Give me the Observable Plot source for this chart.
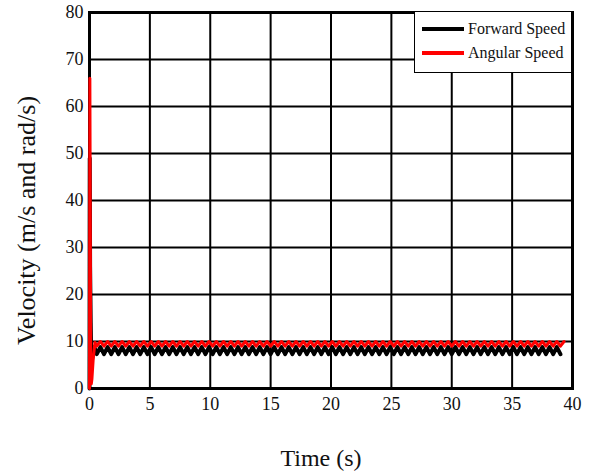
<!DOCTYPE html>
<html>
<head>
<meta charset="utf-8">
<script src="https://cdn.jsdelivr.net/npm/d3@7"></script>
<script src="https://cdn.jsdelivr.net/npm/@observablehq/plot@0.6"></script>
<style>
  body { margin: 0; background: white; }
  #wrap { position: relative; width: 598px; height: 474px; font-family: "Liberation Serif", serif; }
  #legend { position: absolute; left: 414px; top: 11px; width: 158px; height: 62px; background: white;
            border: 1.5px solid black; box-sizing: border-box; }
  .item { position: absolute; left: 7px; height: 20px; display: flex; align-items: center; font-size: 16px; color: #111; white-space: nowrap; }
  .swatch { width: 42px; height: 4px; margin-right: 4px; }
</style>
</head>
<body>
<div id="wrap"></div>
<script>
// ---- data ----
const seriesNames = ["Forward Speed", "Angular Speed"];
const seriesColors = ["black", "#ff0000"];
const xTicks = [0, 5, 10, 15, 20, 25, 30, 35, 40];
const yTicks = [0, 10, 20, 30, 40, 50, 60, 70, 80];
const xLabel = "Time (s)";
const yLabel = "Velocity (m/s and rad/s)";

// start-up transients
const forwardStartT = [0, 0.02, 0.05, 0.1, 0.15, 0.25, 0.4];
const forwardStartV = [0, 49, 26, 14, 5, 7, 8.8];
const angularStartT = [0, 0.03, 0.06, 0.1, 0.15, 0.2, 0.3, 0.45];
const angularStartV = [0, 66, 40, 8, 1, 2, 6, 9.8];

// steady-state oscillation sample times (peaks and troughs)
const steadyT = [
  0.6,0.9,1.2,1.5,1.8,2.1,2.4,2.7,3.0,3.3,3.6,3.9,4.2,4.5,4.8,5.1,5.4,5.7,6.0,6.3,
  6.6,6.9,7.2,7.5,7.8,8.1,8.4,8.7,9.0,9.3,9.6,9.9,10.2,10.5,10.8,11.1,11.4,11.7,12.0,12.3,
  12.6,12.9,13.2,13.5,13.8,14.1,14.4,14.7,15.0,15.3,15.6,15.9,16.2,16.5,16.8,17.1,17.4,17.7,18.0,18.3,
  18.6,18.9,19.2,19.5,19.8,20.1,20.4,20.7,21.0,21.3,21.6,21.9,22.2,22.5,22.8,23.1,23.4,23.7,24.0,24.3,
  24.6,24.9,25.2,25.5,25.8,26.1,26.4,26.7,27.0,27.3,27.6,27.9,28.2,28.5,28.8,29.1,29.4,29.7,30.0,30.3,
  30.6,30.9,31.2,31.5,31.8,32.1,32.4,32.7,33.0,33.3,33.6,33.9,34.2,34.5,34.8,35.1,35.4,35.7,36.0,36.3,
  36.6,36.9,37.2,37.5,37.8,38.1,38.4,38.7,39.0,39.3
];
const forwardSteadyV = [
  7.3,8.8,7.3,8.8,7.3,8.8,7.3,8.8,7.3,8.8,7.3,8.8,7.3,8.8,7.3,8.8,7.3,8.8,7.3,8.8,
  7.3,8.8,7.3,8.8,7.3,8.8,7.3,8.8,7.3,8.8,7.3,8.8,7.3,8.8,7.3,8.8,7.3,8.8,7.3,8.8,
  7.3,8.8,7.3,8.8,7.3,8.8,7.3,8.8,7.3,8.8,7.3,8.8,7.3,8.8,7.3,8.8,7.3,8.8,7.3,8.8,
  7.3,8.8,7.3,8.8,7.3,8.8,7.3,8.8,7.3,8.8,7.3,8.8,7.3,8.8,7.3,8.8,7.3,8.8,7.3,8.8,
  7.3,8.8,7.3,8.8,7.3,8.8,7.3,8.8,7.3,8.8,7.3,8.8,7.3,8.8,7.3,8.8,7.3,8.8,7.3,8.8,
  7.3,8.8,7.3,8.8,7.3,8.8,7.3,8.8,7.3,8.8,7.3,8.8,7.3,8.8,7.3,8.8,7.3,8.8,7.3,8.8,
  7.3,8.8,7.3,8.8,7.3,8.8,7.3,8.8,7.3
];
const angularSteadyV = [
  9.0,10.0,9.0,10.0,9.0,10.0,9.0,10.0,9.0,10.0,9.0,10.0,9.0,10.0,9.0,10.0,9.0,10.0,9.0,10.0,
  9.0,10.0,9.0,10.0,9.0,10.0,9.0,10.0,9.0,10.0,9.0,10.0,9.0,10.0,9.0,10.0,9.0,10.0,9.0,10.0,
  9.0,10.0,9.0,10.0,9.0,10.0,9.0,10.0,9.0,10.0,9.0,10.0,9.0,10.0,9.0,10.0,9.0,10.0,9.0,10.0,
  9.0,10.0,9.0,10.0,9.0,10.0,9.0,10.0,9.0,10.0,9.0,10.0,9.0,10.0,9.0,10.0,9.0,10.0,9.0,10.0,
  9.0,10.0,9.0,10.0,9.0,10.0,9.0,10.0,9.0,10.0,9.0,10.0,9.0,10.0,9.0,10.0,9.0,10.0,9.0,10.0,
  9.0,10.0,9.0,10.0,9.0,10.0,9.0,10.0,9.0,10.0,9.0,10.0,9.0,10.0,9.0,10.0,9.0,10.0,9.0,10.0,
  9.0,10.0,9.0,10.0,9.0,10.0,9.0,10.0,9.0,10.0
];

// ---- build tables ----
function table(ts, vs) { return vs.map((v, i) => ({t: ts[i], v})); }
const forward = [...table(forwardStartT, forwardStartV), ...table(steadyT, forwardSteadyV)];
const angular = [...table(angularStartT, angularStartV), ...table(steadyT, angularSteadyV)];

const chart = Plot.plot({
  width: 598, height: 474,
  marginLeft: 89, marginRight: 26, marginTop: 12, marginBottom: 86,
  style: {fontFamily: "Liberation Serif", fontSize: "18px", background: "white", color: "#111"},
  x: {domain: [0, 40]},
  y: {domain: [0, 80]},
  marks: [
    Plot.gridX(xTicks, {stroke: "black", strokeOpacity: 1, strokeWidth: 2}),
    Plot.gridY(yTicks, {stroke: "black", strokeOpacity: 1, strokeWidth: 2}),
    Plot.axisX(xTicks, {tickSize: 0, tickPadding: 9, label: null, fontSize: 18}),
    Plot.axisY(yTicks, {tickSize: 0, tickPadding: 6, label: null, fontSize: 18}),
    Plot.frame({stroke: "black", strokeWidth: 3}),
    Plot.line(forward, {x: "t", y: "v", stroke: seriesColors[0], strokeWidth: 4}),
    Plot.line(angular, {x: "t", y: "v", stroke: seriesColors[1], strokeWidth: 3}),
    Plot.text([yLabel], {frameAnchor: "left", rotate: -90, textAnchor: "middle", lineAnchor: "middle",
                         dx: -63, dy: 20, fontSize: 26, fill: "#111"}),
    Plot.text([xLabel], {frameAnchor: "bottom", textAnchor: "middle", lineAnchor: "middle",
                         dx: -10, dy: 70, fontSize: 24, fill: "#111"})
  ]
});
const wrap = document.getElementById("wrap");
wrap.appendChild(chart);

const legend = document.createElement("div");
legend.id = "legend";
seriesNames.forEach((name, i) => {
  const it = document.createElement("div");
  it.className = "item";
  it.style.top = (i === 0 ? 7 : 31) + "px";
  const sw = document.createElement("div");
  sw.className = "swatch";
  sw.style.background = seriesColors[i];
  it.appendChild(sw);
  const tx = document.createElement("span");
  tx.textContent = name;
  it.appendChild(tx);
  legend.appendChild(it);
});
wrap.appendChild(legend);
</script>
</body>
</html>
